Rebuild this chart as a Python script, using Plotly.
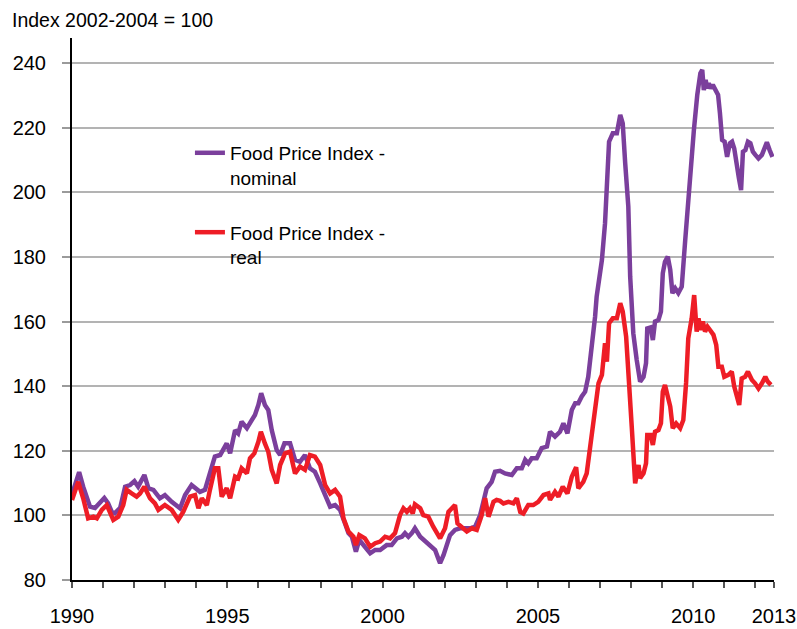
import plotly.graph_objects as go

# Food Price Index - nominal (decimal year, index value)
nom_x = [1990.0, 1990.23, 1990.36, 1990.58, 1990.74, 1990.84, 1991.04, 1991.16, 1991.28, 1991.38,
         1991.55, 1991.71, 1991.87, 1992.01, 1992.13, 1992.33, 1992.46, 1992.62, 1992.83, 1992.99,
         1993.21, 1993.48, 1993.64, 1993.85, 1994.02, 1994.12, 1994.28, 1994.44, 1994.60, 1994.77,
         1994.87, 1994.98, 1995.09, 1995.25, 1995.35, 1995.46, 1995.63, 1995.79, 1995.89, 1996.00,
         1996.09, 1996.21, 1996.32, 1996.43, 1996.59, 1996.70, 1996.84, 1997.02, 1997.18, 1997.34,
         1997.50, 1997.66, 1997.82, 1997.99, 1998.15, 1998.31, 1998.47, 1998.63, 1998.79, 1998.90,
         1999.01, 1999.14, 1999.25, 1999.43, 1999.60, 1999.76, 1999.92, 2000.13, 2000.29, 2000.46,
         2000.62, 2000.72, 2000.83, 2000.94, 2001.04, 2001.21, 2001.37, 2001.53, 2001.69, 2001.79,
         2001.85, 2001.96, 2002.07, 2002.17, 2002.33, 2002.49, 2002.65, 2002.82, 2002.98, 2003.14,
         2003.35, 2003.51, 2003.62, 2003.78, 2003.94, 2004.16, 2004.32, 2004.48, 2004.59, 2004.69,
         2004.80, 2004.96, 2005.12, 2005.29, 2005.39, 2005.55, 2005.71, 2005.82, 2005.95, 2006.09,
         2006.20, 2006.30, 2006.41, 2006.52, 2006.62, 2006.73, 2006.84, 2006.89, 2007.06, 2007.16,
         2007.22, 2007.29, 2007.41, 2007.54, 2007.65, 2007.73, 2007.81, 2007.91, 2007.97, 2008.07,
         2008.18, 2008.29, 2008.40, 2008.48, 2008.52, 2008.63, 2008.70, 2008.77, 2008.88, 2008.96,
         2009.02, 2009.09, 2009.18, 2009.26, 2009.33, 2009.42, 2009.52, 2009.63, 2009.74, 2009.85,
         2009.94, 2010.02, 2010.13, 2010.23, 2010.29, 2010.34, 2010.40, 2010.45, 2010.50, 2010.56,
         2010.63, 2010.72, 2010.80, 2010.86, 2010.93, 2011.01, 2011.09, 2011.18, 2011.25, 2011.32,
         2011.39, 2011.47, 2011.54, 2011.60, 2011.68, 2011.76, 2011.84, 2011.92, 2012.00, 2012.10,
         2012.21, 2012.30, 2012.37, 2012.46, 2012.55]
nom_y = [106.5, 113.4, 108.9, 102.7, 102.3, 103.2, 105.4, 103.8, 101.1, 100.7,
         102.3, 108.9, 109.4, 110.6, 108.9, 112.5, 108.4, 107.9, 105.3, 106.3,
         104.2, 102.2, 106.3, 109.4, 107.9, 107.3, 107.9, 113.5, 118.2, 118.7,
         120.8, 122.3, 119.2, 126.4, 125.4, 129.0, 127.0, 129.5, 131.1, 134.2,
         137.8, 134.2, 132.6, 126.4, 120.2, 118.7, 122.3, 122.3, 117.2, 116.6,
         118.7, 114.6, 113.5, 109.9, 106.3, 102.7, 103.2, 101.7, 97.5, 94.5,
         93.4, 88.8, 92.4, 90.3, 88.3, 89.3, 89.3, 90.8, 90.8, 92.9,
         93.4, 94.5, 93.4, 94.5, 96.0, 93.4, 91.9, 90.8, 89.3, 86.7,
         85.2, 87.7, 91.4, 93.9, 95.5, 96.0, 96.0, 96.0, 96.5, 100.1,
         108.4, 110.4, 113.5, 113.8, 113.0, 112.5, 114.6, 114.6, 117.2, 116.1,
         117.7, 117.7, 120.8, 121.3, 125.9, 124.4, 125.9, 128.5, 125.4, 132.6,
         134.7, 134.7, 136.8, 138.3, 142.9, 151.2, 161.5, 167.7, 179.1, 190.4,
         199.7, 215.7, 218.3, 218.3, 224.0, 221.4, 209.0, 195.6, 173.9, 156.4,
         148.1, 141.4, 142.9, 147.1, 157.9, 158.2, 154.3, 160.0, 160.5, 163.1,
         175.0, 178.5, 180.1, 176.0, 168.8, 170.3, 168.8, 170.8, 185.0, 200.0,
         211.0, 219.2, 230.2, 236.9, 237.9, 231.7, 234.8, 232.2, 233.8, 232.2,
         233.3, 231.2, 230.2, 224.5, 216.2, 215.7, 211.0, 215.2, 215.7, 213.6,
         208.5, 204.4, 200.7, 212.6, 213.1, 215.7, 215.2, 212.6, 211.6, 210.5,
         211.6, 213.6, 215.5, 213.1, 211.0]

# Food Price Index - real (decimal year, index value)
real_x = [1990.0, 1990.20, 1990.36, 1990.52, 1990.69, 1990.80, 1990.96, 1991.12, 1991.33, 1991.49,
          1991.65, 1991.76, 1991.92, 1992.08, 1992.19, 1992.33, 1992.51, 1992.67, 1992.78, 1992.99,
          1993.21, 1993.42, 1993.58, 1993.80, 1993.96, 1994.07, 1994.18, 1994.34, 1994.44, 1994.60,
          1994.71, 1994.82, 1994.98, 1995.09, 1995.25, 1995.35, 1995.46, 1995.63, 1995.73, 1995.87,
          1996.00, 1996.08, 1996.21, 1996.32, 1996.43, 1996.59, 1996.70, 1996.86, 1997.02, 1997.18,
          1997.34, 1997.50, 1997.66, 1997.82, 1997.99, 1998.15, 1998.31, 1998.47, 1998.63, 1998.74,
          1998.90, 1999.06, 1999.14, 1999.25, 1999.43, 1999.60, 1999.76, 1999.92, 2000.08, 2000.24,
          2000.40, 2000.56, 2000.67, 2000.78, 2000.88, 2000.97, 2001.04, 2001.21, 2001.31, 2001.47,
          2001.63, 2001.85, 2002.01, 2002.12, 2002.23, 2002.33, 2002.41, 2002.55, 2002.71, 2002.87,
          2003.03, 2003.19, 2003.30, 2003.41, 2003.57, 2003.67, 2003.78, 2003.89, 2004.05, 2004.21,
          2004.32, 2004.43, 2004.53, 2004.69, 2004.85, 2005.01, 2005.18, 2005.34, 2005.39, 2005.55,
          2005.66, 2005.80, 2005.95, 2006.09, 2006.23, 2006.30, 2006.46, 2006.57, 2006.68, 2006.79,
          2006.89, 2006.95, 2007.06, 2007.16, 2007.22, 2007.29, 2007.41, 2007.54, 2007.65, 2007.73,
          2007.84, 2007.95, 2008.02, 2008.13, 2008.24, 2008.29, 2008.40, 2008.48, 2008.52, 2008.63,
          2008.70, 2008.77, 2008.88, 2008.96, 2009.02, 2009.09, 2009.18, 2009.26, 2009.34, 2009.45,
          2009.58, 2009.68, 2009.77, 2009.84, 2009.95, 2010.03, 2010.11, 2010.17, 2010.24, 2010.31,
          2010.38, 2010.46, 2010.54, 2010.65, 2010.74, 2010.81, 2010.92, 2011.00, 2011.13, 2011.24,
          2011.32, 2011.40, 2011.48, 2011.56, 2011.67, 2011.76, 2011.89, 2011.99, 2012.10, 2012.21,
          2012.32, 2012.40, 2012.50]
real_y = [104.8, 110.4, 105.3, 99.1, 99.6, 99.1, 101.7, 103.2, 98.6, 99.6,
          103.2, 107.9, 106.8, 105.8, 106.8, 108.9, 105.3, 103.7, 101.7, 103.2,
          101.7, 98.6, 101.1, 105.8, 106.3, 102.2, 105.3, 103.2, 107.9, 114.6,
          114.6, 105.8, 108.4, 105.3, 112.0, 111.5, 114.6, 113.0, 117.7, 119.2,
          122.8, 125.9, 122.3, 119.7, 114.1, 109.9, 115.6, 119.2, 119.7, 113.0,
          115.1, 114.1, 118.7, 118.2, 115.6, 109.4, 106.8, 107.9, 105.8, 99.1,
          95.0, 93.4, 90.8, 93.9, 92.9, 90.3, 91.4, 91.9, 93.4, 92.9,
          94.5, 100.1, 102.2, 101.1, 102.2, 100.6, 103.4, 102.2, 100.1, 99.6,
          96.5, 92.9, 96.0, 101.1, 102.2, 103.2, 97.5, 96.5, 95.0, 96.0,
          95.5, 100.1, 105.3, 99.6, 104.2, 104.8, 104.5, 103.7, 104.2, 103.7,
          105.3, 101.1, 100.6, 103.2, 103.2, 104.2, 106.3, 106.8, 104.8, 107.3,
          105.8, 108.9, 106.8, 112.0, 114.9, 108.4, 110.4, 113.0, 121.3, 130.6,
          136.8, 140.9, 143.5, 153.3, 147.6, 159.5, 161.0, 161.0, 165.7, 163.1,
          155.3, 140.9, 127.5, 109.9, 115.6, 111.5, 113.0, 116.1, 124.9, 124.9,
          121.8, 125.9, 126.4, 128.5, 138.3, 140.4, 137.3, 133.7, 127.0, 128.5,
          127.0, 129.5, 141.0, 154.8, 161.0, 168.2, 156.9, 161.0, 157.4, 160.0,
          156.9, 158.4, 157.4, 155.9, 152.8, 146.0, 146.0, 142.9, 143.5, 144.5,
          139.9, 136.3, 134.2, 142.4, 142.9, 144.5, 141.9, 140.9, 139.3, 140.9,
          142.9, 141.4, 140.4]

y_ticks = [80, 100, 120, 140, 160, 180, 200, 220, 240]
x_tick_vals = [1990, 1995, 2000, 2005, 2010, 2012.6]
x_tick_text = ["1990", "1995", "2000", "2005", "2010", "2013"]
x_minor_vals = [y for y in range(1991, 2013) if y % 5 != 0]

PURPLE = "#7B3F9C"
RED = "#EE1D26"
SANS = "Liberation Sans, Arial, sans-serif"

fig = go.Figure()
fig.add_trace(go.Scatter(x=nom_x, y=nom_y, mode="lines", name="Food Price Index -<br>nominal",
                         line=dict(color=PURPLE, width=4.5), legendgroup="a"))
fig.add_trace(go.Scatter(x=real_x, y=real_y, mode="lines", name="Food Price Index -<br>real",
                         line=dict(color=RED, width=4.5), legendgroup="b"))

fig.update_layout(
    template="none",
    width=797, height=629,
    margin=dict(l=72, r=23, t=38, b=49, autoexpand=False),
    paper_bgcolor="white", plot_bgcolor="white",
    showlegend=True,
    legend=dict(x=0.168, y=0.823, xanchor="left", yanchor="top", bgcolor="rgba(0,0,0,0)",
                font=dict(family=SANS, size=19, color="black"), valign="top",
                tracegroupgap=27, traceorder="grouped"),
    xaxis=dict(range=[1990, 2012.6], tickmode="array", tickvals=x_tick_vals, ticktext=x_tick_text,
               automargin=False, ticklabeloverflow="allow",
               showgrid=False, zeroline=False, showline=True, linecolor="black", linewidth=2,
               ticks="outside", ticklen=6, tickcolor="#555555", tickwidth=1.5,
               ticklabelstandoff=11,
               minor=dict(tickmode="array", tickvals=x_minor_vals, ticks="outside", ticklen=6,
                          tickcolor="#555555", tickwidth=1.5, showgrid=False),
               tickfont=dict(family=SANS, size=20, color="black")),
    yaxis=dict(range=[80, 247.8], tickmode="array", tickvals=y_ticks, automargin=False,
               showgrid=True, gridcolor="#B3B3B3", gridwidth=1.5, zeroline=False,
               showline=True, linecolor="black", linewidth=2,
               ticks="outside", ticklen=8, tickcolor="#9A9A9A", tickwidth=1.5,
               ticklabelstandoff=12,
               tickfont=dict(family=SANS, size=20, color="black")),
    annotations=[dict(text="Index 2002-2004 = 100", xref="paper", yref="paper",
                      x=(10 - 72) / 702, y=(580 - 20) / 542, xanchor="left", yanchor="middle",
                      showarrow=False, font=dict(family=SANS, size=19.5, color="black"))],
)

# remove the page's default body margin so the figure fills the window exactly
fig.write_html("out.html",
               config={"displayModeBar": False},
               post_script="document.body.style.margin='0';document.body.style.overflow='hidden';")
